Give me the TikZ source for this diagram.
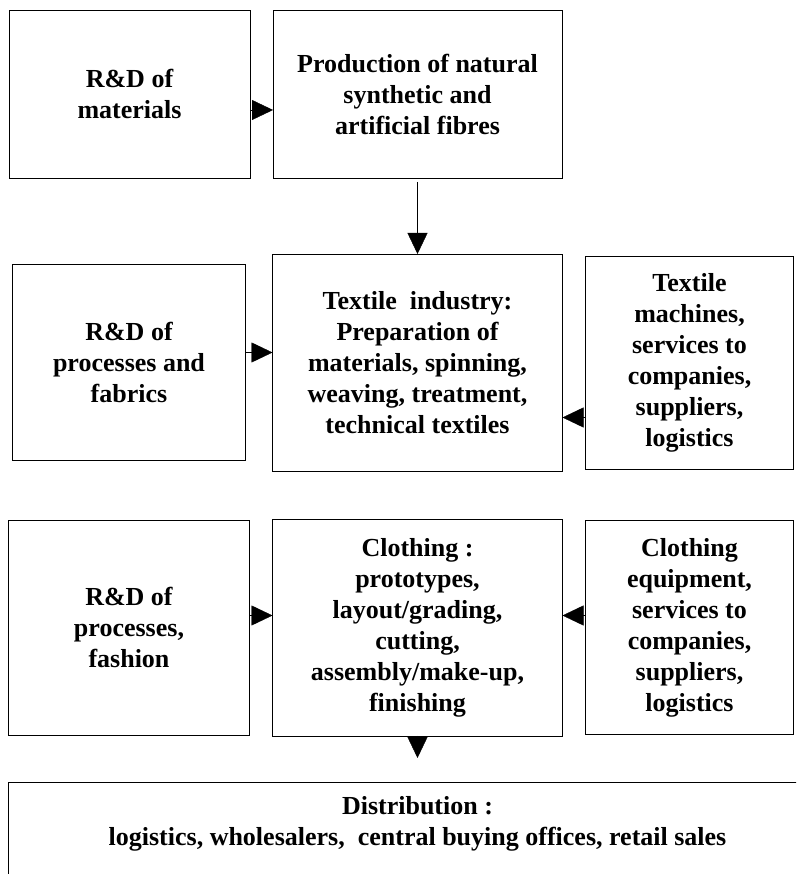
\documentclass[tikz,border=0pt]{standalone}
\usepackage{fontspec}
\setmainfont{Liberation Serif}
\usetikzlibrary{
  arrows.meta,
  positioning,  % Function "of" (e.g. [right=of x])
}
\def\myhdist{23pt}
\def\myvdist{76pt}
\tikzset{
  font=\bfseries\fontsize{26}{31}\selectfont,
  line width=1.6pt,
  >={Triangle[length=21pt,width=20pt]},
  my box/.style={
    draw,
    align=center,
    inner sep=0pt,
    outer sep=0pt,
    rectangle
  },
  rd box/.style={
    my box,
    minimum width=241pt
  },
  main box/.style={
    my box,
    minimum width=290pt,
    minimum height=217pt
  },
  side box/.style={
    my box,
    minimum width=208pt
  }
}

\begin{document}
\begin{tikzpicture}[x=1pt,y=1pt]
\useasboundingbox (0,0) rectangle (796,874);
\clip (0,0) rectangle (796,874);
\node[rd box, minimum height=168pt] (rdmat) at (129.5,780) {R\&D of\\materials};
\node[my box, minimum width=289pt, minimum height=168pt] (prod) [right=\myhdist of rdmat]
  {Production of natural\\synthetic and\\artificial fibres};
\node[main box] (textile) [below=\myvdist of prod]
  {Textile\ \ industry:\\Preparation of\\materials, spinning,\\weaving, treatment,\\technical textiles};
\node[my box, minimum width=233pt, minimum height=196pt] (rdproc) [left=27pt of textile]
  {R\&D of\\processes and\\fabrics};
\node[side box, minimum height=213pt] (machines) [right=\myhdist of textile]
  {Textile\\machines,\\services to\\companies,\\suppliers,\\logistics};
\node[main box] (clothing) [below=48pt of textile]
  {Clothing :\\prototypes,\\layout/grading,\\cutting,\\assembly/make-up,\\finishing};
\node[rd box, minimum height=215pt] (rdfash) [left=\myhdist of clothing]
  {R\&D of\\processes,\\fashion};
\node[side box, minimum height=214pt] (equip) [right=\myhdist of clothing]
  {Clothing\\equipment,\\services to\\companies,\\suppliers,\\logistics};
% bottom box runs off the page
\node[my box, minimum width=818pt, minimum height=120pt] (distrib) [below=46pt of clothing] {};
\node[align=center] (distribtxt) at ([yshift=-42pt]distrib.north)
  {Distribution :\\logistics, wholesalers,\ \ central buying offices, retail sales};

\draw[->] ([yshift=-16pt]rdmat.east) -- ([yshift=-16pt]prod.west);
\draw[->, shorten <=4pt] (prod) -- (textile);
\draw[->] ([yshift=10pt]rdproc.east) -- ([yshift=10pt]textile.west);
\draw[->] ([yshift=-55pt]machines.west) -- ([yshift=-55pt]textile.east);
\draw[->] ([yshift=12pt]rdfash.east) -- ([yshift=12pt]clothing.west);
\draw[->] ([yshift=12pt]equip.west) -- ([yshift=12pt]clothing.east);
\coordinate (clothtip) at ([yshift=-22pt]clothing.south);
\draw[->] (clothing) -- (clothtip);
\end{tikzpicture}
\end{document}
